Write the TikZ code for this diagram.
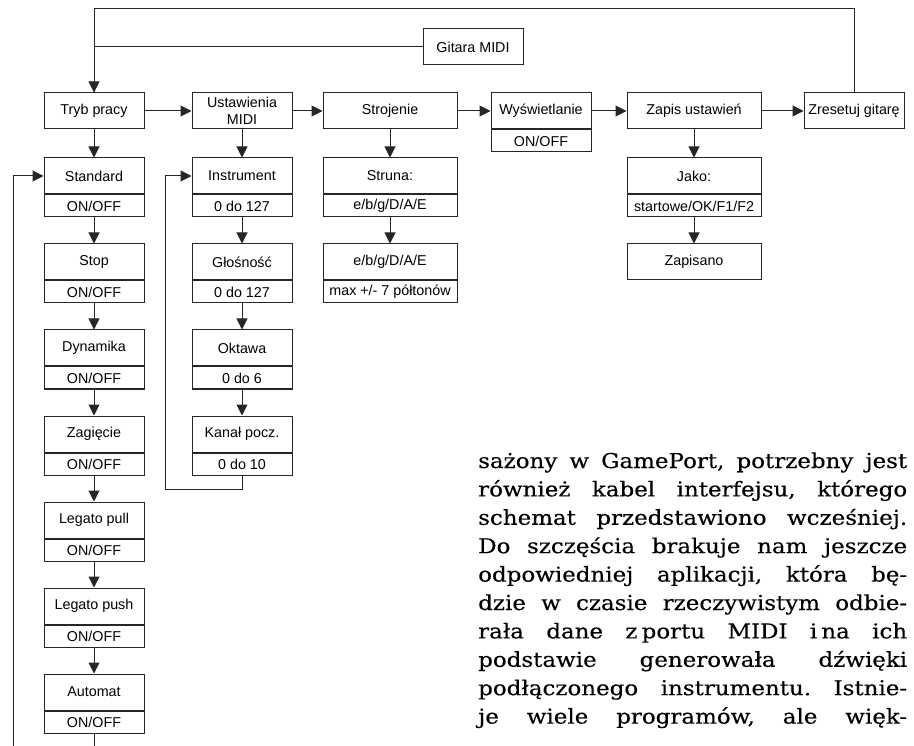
\documentclass[tikz,border=0pt]{standalone}
\usepackage{fontspec}
\setsansfont{Liberation Sans}
\newfontfamily\bodyfont[FakeStretch=1.12, FakeBold=0.3]{DejaVu Serif}
\usepackage{tikz}
\usetikzlibrary{arrows.meta}
\frenchspacing
\tikzstyle{menublock} = [rectangle, draw=black!85, line width=1pt, inner sep=1pt, align=center, font=\sffamily\fontsize{14.3}{17}\selectfont]
\tikzstyle{block} = [menublock, minimum width=100pt, minimum height=36pt]
\tikzstyle{wideblock} = [block, minimum width=134pt]
\tikzstyle{valblock} = [menublock, minimum width=100pt, minimum height=22pt, anchor=north]
\tikzstyle{widevalblock} = [valblock, minimum width=134pt]
\tikzstyle{link} = [draw=black!85, line width=1pt]
\tikzstyle{arrow} = [link, -{Triangle[length=11pt, width=11pt]}]
\tikzstyle{bodyline} = [inner sep=0pt, anchor=base west, font=\bodyfont\fontsize{20.5}{28}\selectfont]

\begin{document}
\begin{tikzpicture}[x=1pt, y=-1pt]
    \useasboundingbox (0, 0) rectangle (914, 746);

    % main menu
    \node[block] at (473, 47) (gitara) {Gitara MIDI};
    \node[block] at (94, 111) (tryb) {Tryb pracy};
    \node[block] at (242, 111) (ustaw) {Ustawienia\\MIDI};
    \node[wideblock] at (390, 111) (stroj) {Strojenie};
    \node[block] at (541, 111) (wysw) {Wyświetlanie};
    \node[valblock] at (wysw.south) (wyswv) {ON/OFF};
    \node[wideblock] at (694, 111) (zapis) {Zapis ustawień};
    \node[block] at (854, 111) (reset) {Zresetuj gitarę};

    % tryb pracy
    \node[block] at (94, 176) (std) {Standard};
    \node[valblock] at (std.south) (stdv) {ON/OFF};
    \node[block] at (94, 262) (stop) {Stop};
    \node[valblock] at (stop.south) (stopv) {ON/OFF};
    \node[block] at (94, 348) (dyn) {Dynamika};
    \node[valblock] at (dyn.south) (dynv) {ON/OFF};
    \node[block] at (94, 434) (zag) {Zagięcie};
    \node[valblock] at (zag.south) (zagv) {ON/OFF};
    \node[block] at (94, 520) (pull) {Legato pull};
    \node[valblock] at (pull.south) (pullv) {ON/OFF};
    \node[block] at (94, 606) (push) {Legato push};
    \node[valblock] at (push.south) (pushv) {ON/OFF};
    \node[block] at (94, 692) (auto) {Automat};
    \node[valblock] at (auto.south) (autov) {ON/OFF};

    % ustawienia MIDI
    \node[block] at (242, 176) (instr) {Instrument};
    \node[valblock] at (instr.south) (instrv) {0 do 127};
    \node[block] at (242, 262) (glos) {Głośność};
    \node[valblock] at (glos.south) (glosv) {0 do 127};
    \node[block] at (242, 348) (okt) {Oktawa};
    \node[valblock] at (okt.south) (oktv) {0 do 6};
    \node[block] at (242, 434) (kanal) {Kanał pocz.};
    \node[valblock] at (kanal.south) (kanalv) {0 do 10};

    % strojenie
    \node[wideblock] at (390, 176) (struna) {Struna:};
    \node[widevalblock] at (struna.south) (strunav) {e/b/g/D/A/E};
    \node[wideblock] at (390, 262) (ton) {e/b/g/D/A/E};
    \node[widevalblock] at (ton.south) (tonv) {max +/- 7 półtonów};

    % zapis
    \node[wideblock] at (694, 176) (jako) {Jako:};
    \node[widevalblock] at (jako.south) (jakov) {startowe/OK/F1/F2};
    \node[wideblock] at (694, 262) (zapisano) {Zapisano};

    \coordinate (topL) at (94, 9);
    \coordinate (loopK) at (165, 489);
    \coordinate (cutA) at (94, 746);
    \coordinate (cutB) at (13, 746);

    \path[link] (reset.north) |- (topL) -- (tryb.north);
    \path[arrow] (gitara.west) -| (tryb.north);

    \path[arrow] (tryb.east) to (ustaw.west);
    \path[arrow] (ustaw.east) to (stroj.west);
    \path[arrow] (stroj.east) to (wysw.west);
    \path[arrow] (wysw.east) to (zapis.west);
    \path[arrow] (zapis.east) to (reset.west);

    \path[arrow] (tryb.south) to (std.north);
    \path[arrow] (stdv.south) to (stop.north);
    \path[arrow] (stopv.south) to (dyn.north);
    \path[arrow] (dynv.south) to (zag.north);
    \path[arrow] (zagv.south) to (pull.north);
    \path[arrow] (pullv.south) to (push.north);
    \path[arrow] (pushv.south) to (auto.north);
    \path[link] (autov.south) to (cutA);
    \path[arrow] (cutB) |- (std.west);

    \path[arrow] (ustaw.south) to (instr.north);
    \path[arrow] (instrv.south) to (glos.north);
    \path[arrow] (glosv.south) to (okt.north);
    \path[arrow] (oktv.south) to (kanal.north);
    \path[link] (kanalv.south) |- (loopK);
    \path[arrow] (loopK) |- (instr.west);

    \path[arrow] (stroj.south) to (struna.north);
    \path[arrow] (strunav.south) to (ton.north);

    \path[arrow] (zapis.south) to (jako.north);
    \path[arrow] (jakov.south) to (zapisano.north);

    % column text
    \foreach \linia [count=\i] in {
        {sażony w GamePort, potrzebny jest},
        {również kabel interfejsu, którego},
        {schemat przedstawiono wcześniej.},
        {Do szczęścia brakuje nam jeszcze},
        {odpowiedniej aplikacji, która bę-},
        {dzie w czasie rzeczywistym odbie-},
        {rała dane z\hspace{0.2em}portu MIDI i\hspace{0.2em}na ich},
        {podstawie generowała dźwięki},
        {podłączonego instrumentu. Istnie-},
        {je wiele programów, ale więk-}}
        \node[bodyline] at (478, {468 + 28.4*(\i-1)}) (wiersz\i) {\makebox[429pt][s]{\linia}};
\end{tikzpicture}
\end{document}
